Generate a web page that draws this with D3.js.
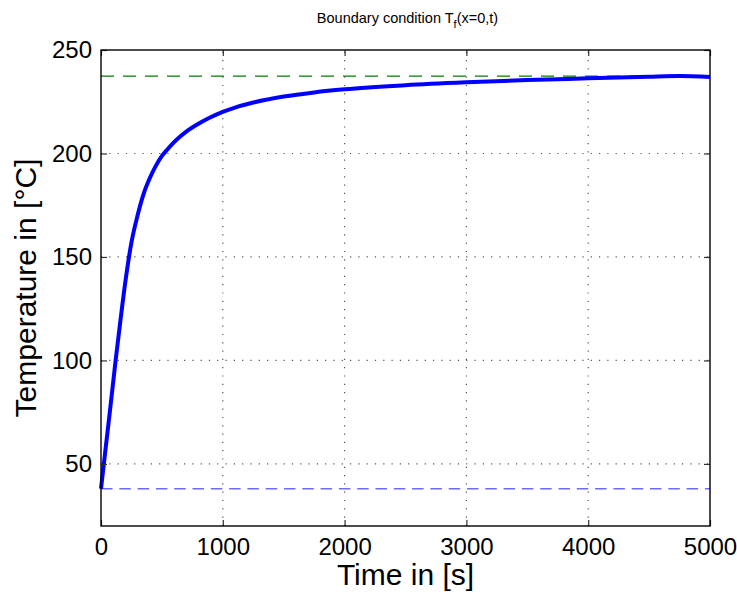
<!DOCTYPE html>
<html>
<head>
<meta charset="utf-8">
<script src="https://cdn.jsdelivr.net/npm/d3@7"></script>
<style>
  html, body { margin: 0; padding: 0; background: #fff; }
  svg { display: block; font-family: "Liberation Sans", Arial, Helvetica, sans-serif; }
</style>
</head>
<body>
<svg id="chart" width="737" height="595"></svg>
<script>
// Fluid temperature at the inlet boundary, T_f(x=0, t)
const timeS = [0, 40, 80, 120, 160, 200, 250, 300, 350, 400, 450, 500, 550, 600, 650, 700, 800, 900, 1000, 1100, 1250, 1500, 1750, 2000, 2500, 3000, 3500, 4000, 4500, 4750, 5000];
const tempC = [38, 58.5, 79, 100, 119.5, 138, 157, 170, 180.5, 188, 194, 198.8, 202.3, 205.5, 208.2, 210.6, 214.4, 217.5, 220.1, 222.2, 224.6, 227.5, 229.5, 231, 233, 234.4, 235.5, 236.3, 237.1, 237.4, 237.0];

// Reference levels: initial temperature and steady-state temperature
const initialTemp = 38;
const steadyTemp = 237.4;

const xTicks = [0, 1000, 2000, 3000, 4000, 5000];
const yTicks = [50, 100, 150, 200, 250];
const xDomain = [0, 5000];
const yDomain = [20, 250];

const titleText = "Boundary condition T";
const titleSub = "f";
const titleTail = "(x=0,t)";
const xLabel = "Time in [s]";
const yLabel = "Temperature in [°C]";

const margin = { left: 101, right: 27, top: 50, bottom: 69 };
const W = 737, H = 595;
const iw = W - margin.left - margin.right;
const ih = H - margin.top - margin.bottom;

const svg = d3.select("#chart");
const g = svg.append("g").attr("transform", `translate(${margin.left},${margin.top})`);

const x = d3.scaleLinear().domain(xDomain).range([0, iw]);
const y = d3.scaleLinear().domain(yDomain).range([ih, 0]);

// dotted grid
const grid = g.append("g").attr("stroke", "#555").attr("stroke-width", 1.2)
  .attr("stroke-dasharray", "1.2,7.1");
grid.selectAll("line.gx").data(xTicks.filter(d => d > xDomain[0] && d < xDomain[1]))
  .join("line").attr("x1", d => x(d)).attr("x2", d => x(d)).attr("y1", ih).attr("y2", 0);
grid.selectAll("line.gy").data(yTicks.filter(d => d < yDomain[1]))
  .join("line").attr("y1", d => y(d)).attr("y2", d => y(d)).attr("x1", 0).attr("x2", iw);

// reference levels
g.append("line").attr("x1", x(0)).attr("x2", x(5000))
  .attr("y1", y(initialTemp)).attr("y2", y(initialTemp))
  .attr("stroke", "#6b6bff").attr("stroke-width", 1.6).attr("stroke-dasharray", "11.5,6.8");
g.append("line").attr("x1", x(0)).attr("x2", x(5000))
  .attr("y1", y(steadyTemp)).attr("y2", y(steadyTemp))
  .attr("stroke", "#008000").attr("stroke-width", 1.4).attr("stroke-dasharray", "13,9");

// temperature curve
const line = d3.line().x((d, i) => x(timeS[i])).y(d => y(d)).curve(d3.curveMonotoneX);
g.append("path").datum(tempC).attr("d", line)
  .attr("fill", "none").attr("stroke", "#0000ff").attr("stroke-width", 4)
  .attr("stroke-linejoin", "round");

// axes: inward ticks on all four sides, box frame
const tickLen = 6;
const axB = g.append("g").attr("transform", `translate(0,${ih})`)
  .call(d3.axisBottom(x).tickValues(xTicks).tickSize(-tickLen).tickPadding(12).tickFormat(d3.format("d")));
const axT = g.append("g")
  .call(d3.axisTop(x).tickValues(xTicks).tickSize(-tickLen).tickFormat(""));
const axL = g.append("g")
  .call(d3.axisLeft(y).tickValues(yTicks).tickSize(-tickLen).tickPadding(9).tickFormat(d3.format("d")));
const axR = g.append("g").attr("transform", `translate(${iw},0)`)
  .call(d3.axisRight(y).tickValues(yTicks).tickSize(-tickLen).tickFormat(""));
[axB, axT, axL, axR].forEach(a => {
  a.select(".domain").remove();
  a.selectAll(".tick line").attr("stroke", "#333").attr("stroke-width", 1.2);
  a.selectAll(".tick text").attr("fill", "#000").attr("font-size", 24)
    .attr("font-family", "'Liberation Sans', Arial, sans-serif");
});
axB.selectAll(".tick text").attr("dy", "0.71em");
g.append("rect").attr("x", 0).attr("y", 0).attr("width", iw).attr("height", ih)
  .attr("fill", "none").attr("stroke", "#000").attr("stroke-width", 1.4);

// labels
svg.append("text").attr("x", margin.left + iw / 2).attr("y", 585)
  .attr("text-anchor", "middle").attr("font-size", 30).text(xLabel);
svg.append("text").attr("transform", `translate(36,288) rotate(-90)`)
  .attr("text-anchor", "middle").attr("font-size", 30).text(yLabel);

const title = svg.append("text").attr("x", margin.left + iw / 2 + 2).attr("y", 23)
  .attr("text-anchor", "middle").attr("font-size", 14.5);
title.append("tspan").text(titleText);
title.append("tspan").attr("font-size", 11).attr("dy", 5).text(titleSub);
title.append("tspan").attr("dy", -5).text(titleTail);
</script>
</body>
</html>
